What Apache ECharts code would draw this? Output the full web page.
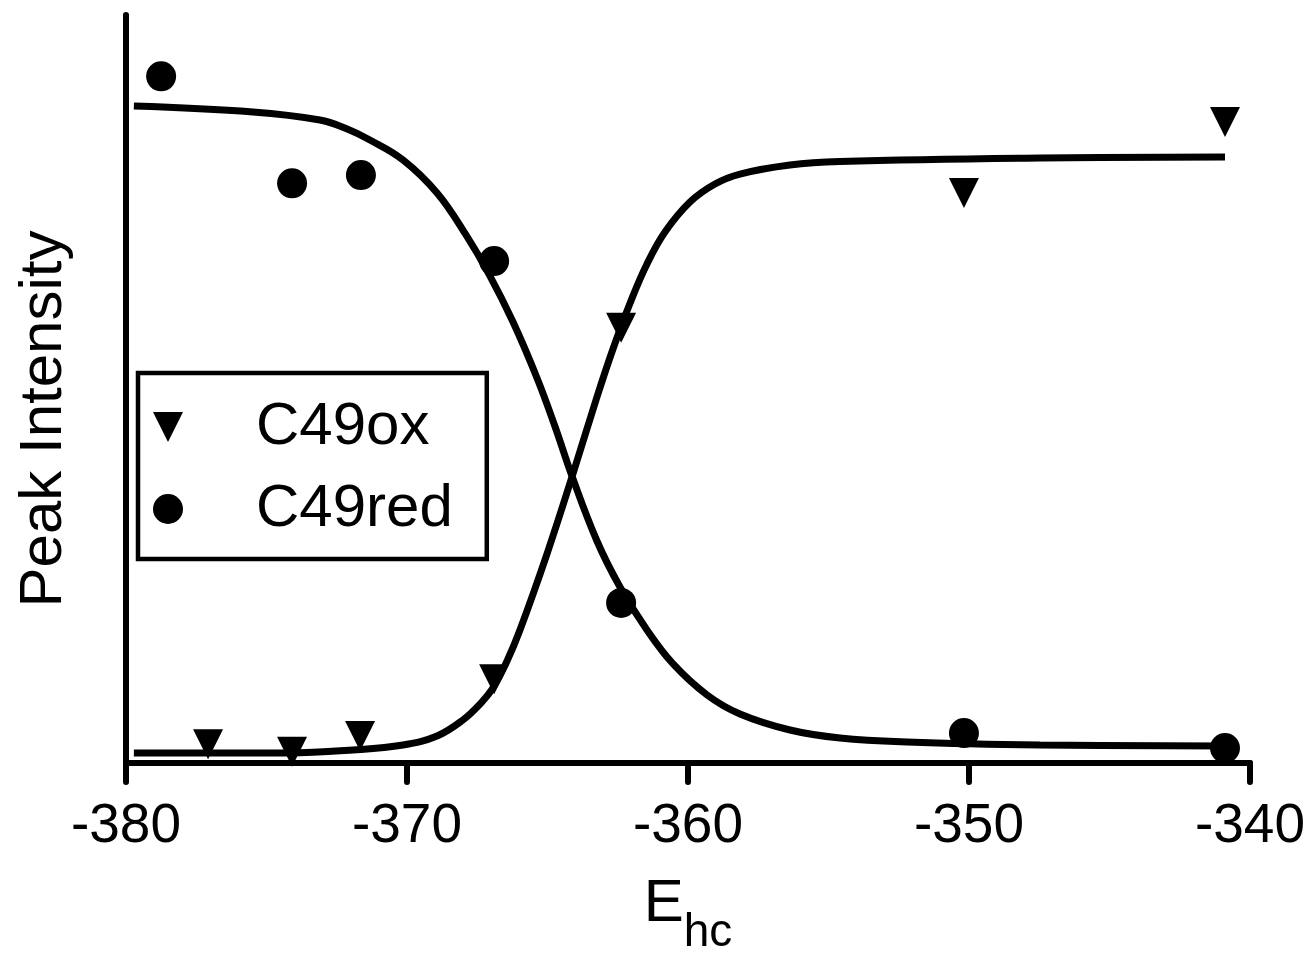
<!DOCTYPE html>
<html>
<head>
<meta charset="utf-8">
<script src="https://cdn.jsdelivr.net/npm/echarts@6/dist/echarts.min.js"></script>
<style>
html,body{margin:0;padding:0;background:#fff;}
#chart{width:1309px;height:956px;}
</style>
</head>
<body>
<div id="chart"></div>
<script>
// Measured points (E_hc in mV, peak intensity in arbitrary units)
const oxX  = [-377.08, -374.09, -371.67, -366.9, -362.38, -350.18, -340.89];
const oxY  = [2.5, 1.5, 3.6, 11.2, 58.2, 76.2, 85.7];
const redX = [-378.75, -374.09, -371.64, -366.9, -362.38, -350.18, -340.89];
const redY = [91.8, 77.5, 78.6, 67.1, 21.4, 4.0, 2.0];

// Fitted curves
const fitOxX = [-379.72, -374.27, -371.92, -370.14, -368.93, -368.01, -367.40, -366.94, -366.44, -365.98, -365.02, -364.13, -363.24, -362.67, -362.06, -361.46, -360.82, -359.93, -359.04, -358.15, -356.37, -354.59, -347.47, -340.89];
const fitOxY = [1.34, 1.34, 1.74, 2.41, 3.61, 5.75, 7.89, 10.03, 13.64, 17.78, 27.94, 38.24, 48.93, 55.35, 61.50, 66.71, 70.99, 75.00, 77.41, 78.74, 79.95, 80.41, 80.88, 81.02];
const fitRedX = [-379.72, -375.48, -373.10, -372.21, -371.32, -370.14, -368.93, -367.90, -367.05, -366.23, -365.37, -364.73, -364.13, -363.24, -362.42, -361.46, -360.53, -359.32, -358.15, -356.37, -354.59, -352.21, -347.47, -340.89];
const fitRedY = [87.83, 87.03, 85.96, 84.89, 83.29, 80.61, 76.20, 70.59, 65.13, 58.98, 51.44, 44.95, 38.37, 29.68, 23.53, 17.78, 13.24, 9.09, 6.55, 4.41, 3.34, 2.81, 2.41, 2.27];

const seriesNames = ['C49ox', 'C49red'];
const xMin = -380, xMax = -340, xStep = 10;

const zip = (a, b) => a.map((v, i) => [v, b[i]]);
const FONT = 'Liberation Sans, Arial, Helvetica, sans-serif';
const TRI = 'path://M-1,-1L1,-1L0,1Z';

const chart = echarts.init(document.getElementById('chart'), null, {renderer: 'canvas'});
chart.setOption({
  backgroundColor: '#ffffff',
  animation: false,
  grid: {left: 126, right: 59, top: 15, bottom: 193, containLabel: false, outerBoundsMode: 'none'},
  legend: {
    orient: 'vertical',
    left: 138, top: 373,
    data: [{name: seriesNames[0], icon: TRI}, {name: seriesNames[1], icon: 'circle'}],
    itemWidth: 30, itemHeight: 30,
    itemGap: 22,
    itemStyle: {opacity: 1, color: '#000'},
    padding: [24, 34, 20, 15],
    borderColor: '#000', borderWidth: 4.5, borderRadius: 0,
    backgroundColor: 'rgba(255,255,255,0)',
    textStyle: {fontFamily: FONT, fontSize: 60, color: '#000', lineHeight: 60, padding: [0, 0, 0, 68]},
    selectedMode: false
  },
  xAxis: {
    type: 'value', min: xMin, max: xMax, interval: xStep,
    name: '{e|E}{s|hc}',
    nameLocation: 'middle', nameGap: 133,
    nameTextStyle: {
      fontFamily: FONT, color: '#000', fontSize: 60,
      rich: {
        e: {fontFamily: FONT, fontSize: 60, lineHeight: 60, color: '#000', verticalAlign: 'bottom', padding: [0, 0, 22, 0]},
        s: {fontFamily: FONT, fontSize: 46, lineHeight: 46, color: '#000', verticalAlign: 'bottom'}
      }
    },
    axisLine: {show: true, onZero: false, lineStyle: {color: '#000', width: 6}},
    axisTick: {show: true, length: 19, lineStyle: {color: '#000', width: 6, cap: 'round'}},
    axisLabel: {fontFamily: FONT, fontSize: 55, color: '#000', margin: 36},
    splitLine: {show: false}
  },
  yAxis: {
    type: 'value', min: 0, max: 100,
    name: 'Peak Intensity', nameLocation: 'middle', nameGap: 52,
    nameTextStyle: {fontFamily: FONT, fontSize: 60, color: '#000', padding: [0, 60, 0, 0]},
    axisLine: {show: true, onZero: false, lineStyle: {color: '#000', width: 6}},
    axisTick: {show: false},
    axisLabel: {show: false},
    splitLine: {show: false}
  },
  series: [
    {name: 'C49ox fit', type: 'line', data: zip(fitOxX, fitOxY), showSymbol: false, smooth: 0.4,
     lineStyle: {color: '#000', width: 7}, z: 2, silent: true},
    {name: 'C49red fit', type: 'line', data: zip(fitRedX, fitRedY), showSymbol: false, smooth: 0.4,
     lineStyle: {color: '#000', width: 7}, z: 2, silent: true},
    {name: seriesNames[0], type: 'scatter', data: zip(oxX, oxY), symbol: TRI, symbolSize: [30, 30],
     itemStyle: {color: '#000', opacity: 1}, z: 3},
    {name: seriesNames[1], type: 'scatter', data: zip(redX, redY), symbol: 'circle', symbolSize: 30,
     itemStyle: {color: '#000', opacity: 1}, z: 3}
  ]
});
</script>
</body>
</html>
